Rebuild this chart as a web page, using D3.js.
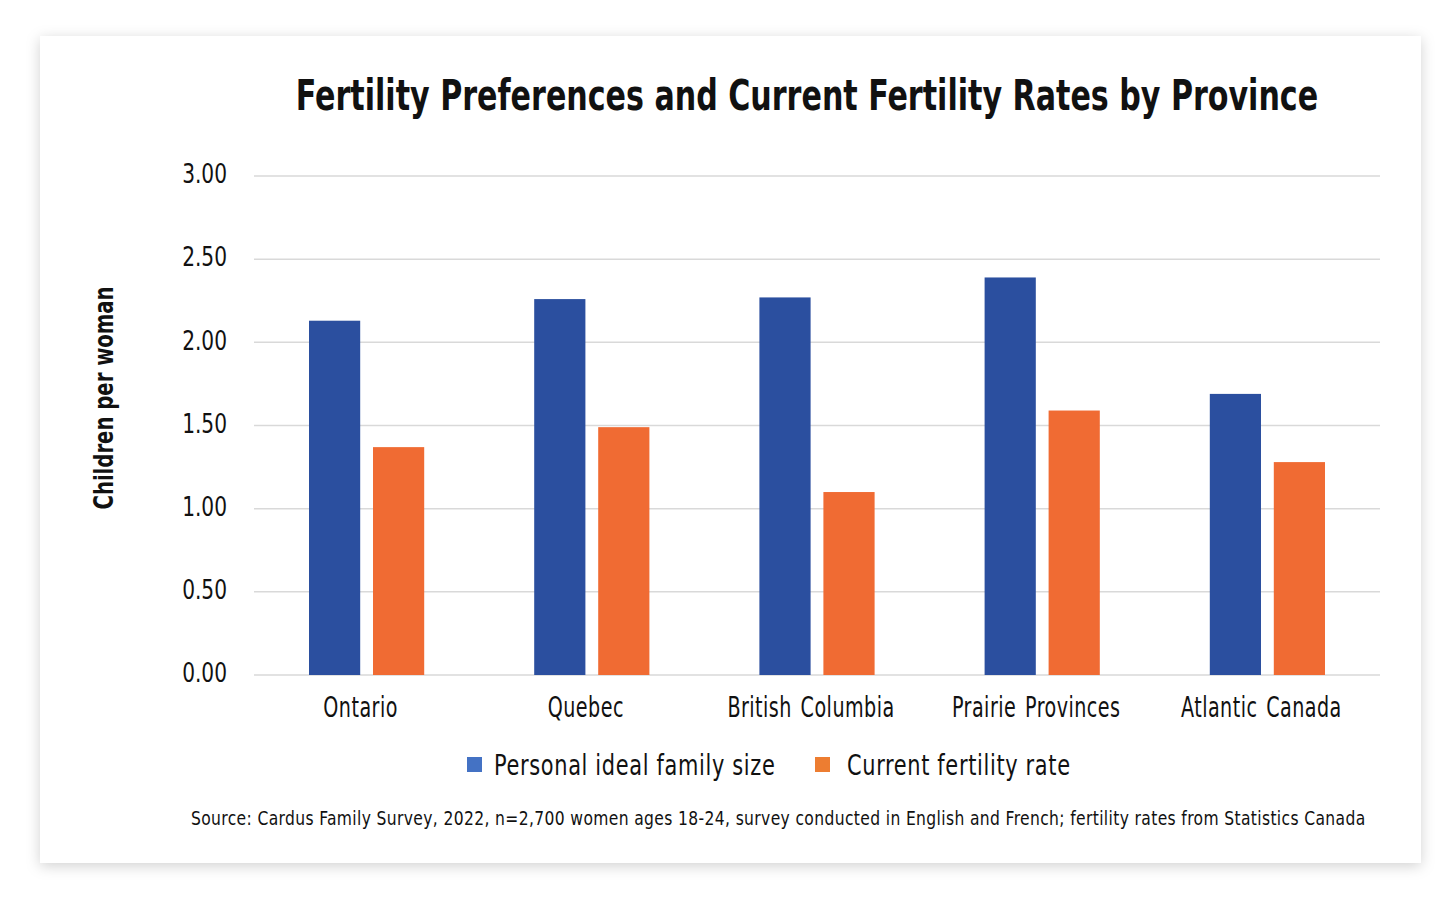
<!DOCTYPE html>
<html lang="en">
<head>
<meta charset="UTF-8">
<title>Fertility Preferences and Current Fertility Rates by Province</title>
<style>
    body { margin: 0; background: #fff; }
    svg text { font-family: "DejaVu Sans Condensed", "Liberation Sans Narrow", sans-serif; fill: #111; }
</style>
</head>
<body>
<svg width="1456" height="909"></svg>
<script src="https://d3js.org/d3.v7.min.js"></script>
<script>
    // data
    const provinces = ["Ontario", "Quebec", "British Columbia", "Prairie Provinces", "Atlantic Canada"];
    const idealSize = [2.13, 2.26, 2.27, 2.39, 1.69];
    const fertilityRate = [1.37, 1.49, 1.10, 1.59, 1.28];
    const seriesNames = ["Personal ideal family size", "Current fertility rate"];
    const yTicks = [0, 0.5, 1, 1.5, 2, 2.5, 3];

    const barColors = ["#2B4F9F", "#F06B33"];
    const legendColors = ["#4472C4", "#ED7D31"];

    const FONT = "\"DejaVu Sans Condensed\", \"Liberation Sans Narrow\", sans-serif";

    const svg = d3.select("svg");

    // card with soft shadow
    const defs = svg.append("defs");
    const f = defs.append("filter").attr("id", "shadow")
        .attr("x", "-5%").attr("y", "-5%").attr("width", "110%").attr("height", "110%");
    f.append("feDropShadow").attr("dx", 0).attr("dy", 3).attr("stdDeviation", 7)
        .attr("flood-color", "#000").attr("flood-opacity", 0.18);
    svg.append("rect").attr("x", 40).attr("y", 36).attr("width", 1381).attr("height", 827)
        .attr("fill", "#fff").attr("filter", "url(#shadow)");

    const plot = {left: 254, right: 1380, top: 176, bottom: 675};

    const y = d3.scaleLinear().domain([0, 3]).range([plot.bottom, plot.top]);
    const x0 = d3.scaleBand().domain(provinces).range([plot.left, plot.right]);
    const x1 = d3.scaleBand().domain([0, 1]).range([55, x0.bandwidth() - 55]).paddingInner(0.2);

    // gridlines
    svg.append("g").selectAll("line").data(yTicks).join("line")
        .attr("x1", plot.left).attr("x2", plot.right)
        .attr("y1", d => y(d)).attr("y2", d => y(d))
        .attr("stroke", "#d9d9d9").attr("stroke-width", 1.5);

    // y axis labels (condensed horizontally, the original face is narrow)
    const yAxis = d3.axisLeft(y).tickValues(yTicks).tickFormat(d3.format(".2f")).tickSize(0).tickPadding(0);
    const gY = svg.append("g").attr("transform", "translate(227,0)").call(yAxis);
    gY.select(".domain").remove();
    gY.selectAll("text").attr("x", 0).attr("dy", "0.25em").attr("font-size", 27)
        .attr("transform", "scale(0.83,1)")
        .style("font-family", FONT).attr("fill", "#111");

    // bars
    const rows = provinces.map((p, i) => ({p, vals: [idealSize[i], fertilityRate[i]]}));
    const groups = svg.append("g").selectAll("g").data(rows).join("g")
        .attr("transform", d => `translate(${x0(d.p)},0)`);
    groups.selectAll("rect").data(d => d.vals.map((v, k) => ({v, k}))).join("rect")
        .attr("x", d => x1(d.k))
        .attr("width", x1.bandwidth())
        .attr("y", d => y(d.v))
        .attr("height", d => y(0) - y(d.v))
        .attr("fill", d => barColors[d.k]);

    // x axis labels
    const xAxis = d3.axisBottom(x0).tickSize(0).tickPadding(0);
    const gX = svg.append("g").attr("transform", `translate(0,${plot.bottom})`).call(xAxis);
    gX.select(".domain").remove();
    gX.selectAll(".tick").attr("transform", d => `translate(${x0(d) + x0.bandwidth() / 2 - 6},0)`);
    gX.selectAll("text").attr("y", 42).attr("dy", 0).attr("font-size", 28)
        .attr("transform", "scale(0.76,1)").attr("letter-spacing", 0.6).attr("word-spacing", 3)
        .style("font-family", FONT).attr("fill", "#111");

    // title
    svg.append("g").attr("transform", "translate(807,110) scale(0.797,1)")
        .append("text").attr("text-anchor", "middle")
        .attr("font-size", 42).attr("font-weight", "bold")
        .text("Fertility Preferences and Current Fertility Rates by Province");

    // y title
    svg.append("g").attr("transform", "translate(113,398) rotate(-90) scale(0.84,1)")
        .append("text").attr("text-anchor", "middle").attr("font-size", 26).attr("font-weight", "bold")
        .text("Children per woman");

    // legend
    const legendX = [467, 815];
    const lg = svg.append("g").selectAll("g").data(seriesNames).join("g")
        .attr("transform", (d, i) => `translate(${legendX[i]},757)`);
    lg.append("rect").attr("width", 15).attr("height", 15).attr("fill", (d, i) => legendColors[i]);
    lg.append("g").attr("transform", (d, i) => `translate(${i ? 32 : 27},18) scale(0.83,1)`)
        .append("text").attr("font-size", 28).attr("letter-spacing", 0.8).text(d => d);

    // source
    svg.append("g").attr("transform", "translate(191,825) scale(0.91,1)")
        .append("text").attr("font-size", 19).attr("letter-spacing", 0.4)
        .text("Source: Cardus Family Survey, 2022, n=2,700 women ages 18-24, survey conducted in English and French; fertility rates from Statistics Canada");
</script>
</body>
</html>
